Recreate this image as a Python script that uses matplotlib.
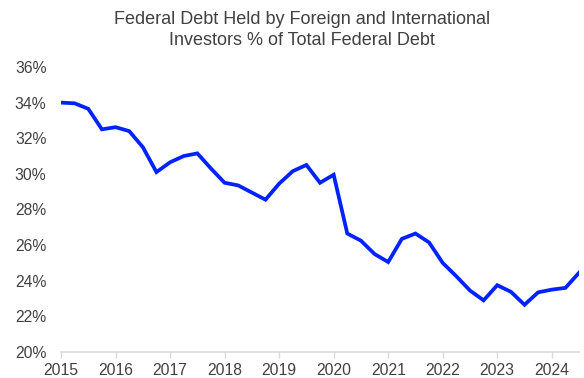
import matplotlib
matplotlib.use("Agg")
import matplotlib.pyplot as plt
from matplotlib.ticker import FuncFormatter, MultipleLocator

plt.rcParams['font.family'] = ['Liberation Sans', 'DejaVu Sans']

# Quarterly observations, 2015 Q1 onward
quarters = [2015 + 0.25 * i for i in range(39)]
foreign_share = [
    34.0, 33.96, 33.65, 32.5,
    32.62, 32.4, 31.5, 30.1,
    30.65, 31.0, 31.15, 30.3,
    29.5, 29.35, 28.95, 28.55,
    29.45, 30.15, 30.5, 29.5,
    29.95, 26.65, 26.25, 25.5,
    25.05, 26.35, 26.65, 26.15,
    25.0, 24.25, 23.45, 22.9,
    23.75, 23.38, 22.65, 23.35,
    23.5, 23.6, 24.45,
]
year_ticks = list(range(2015, 2025))
title = "Federal Debt Held by Foreign and International\nInvestors % of Total Federal Debt"

text_color = "#404040"

fig = plt.figure(figsize=(5.84, 3.78), dpi=100)
ax = fig.add_axes([0.1045, 0.0688, 0.887, 0.754])

ax.plot(quarters, foreign_share, color="#0022FF", linewidth=2.7, solid_joinstyle="miter")

ax.set_xlim(2015, 2024.5)
ax.set_ylim(20, 36)
ax.set_xticks(year_ticks)
ax.yaxis.set_major_locator(MultipleLocator(2))
ax.yaxis.set_major_formatter(FuncFormatter(lambda v, p: f"{v:.0f}%"))

for side in ("top", "right", "left"):
    ax.spines[side].set_visible(False)
ax.spines["bottom"].set_color("#d9d9d9")
ax.spines["bottom"].set_linewidth(1.2)

ax.tick_params(axis="x", colors="#d9d9d9", length=4, width=1, labelcolor=text_color,
               labelsize=11.3, pad=4)
ax.tick_params(axis="y", length=0, labelcolor=text_color, labelsize=11.3, pad=10.5)

fig.text(0.517, 0.972, title, ha="center", va="top", fontsize=13,
         color=text_color, linespacing=1.32)

fig.savefig("out.png", dpi=100, facecolor="white")
